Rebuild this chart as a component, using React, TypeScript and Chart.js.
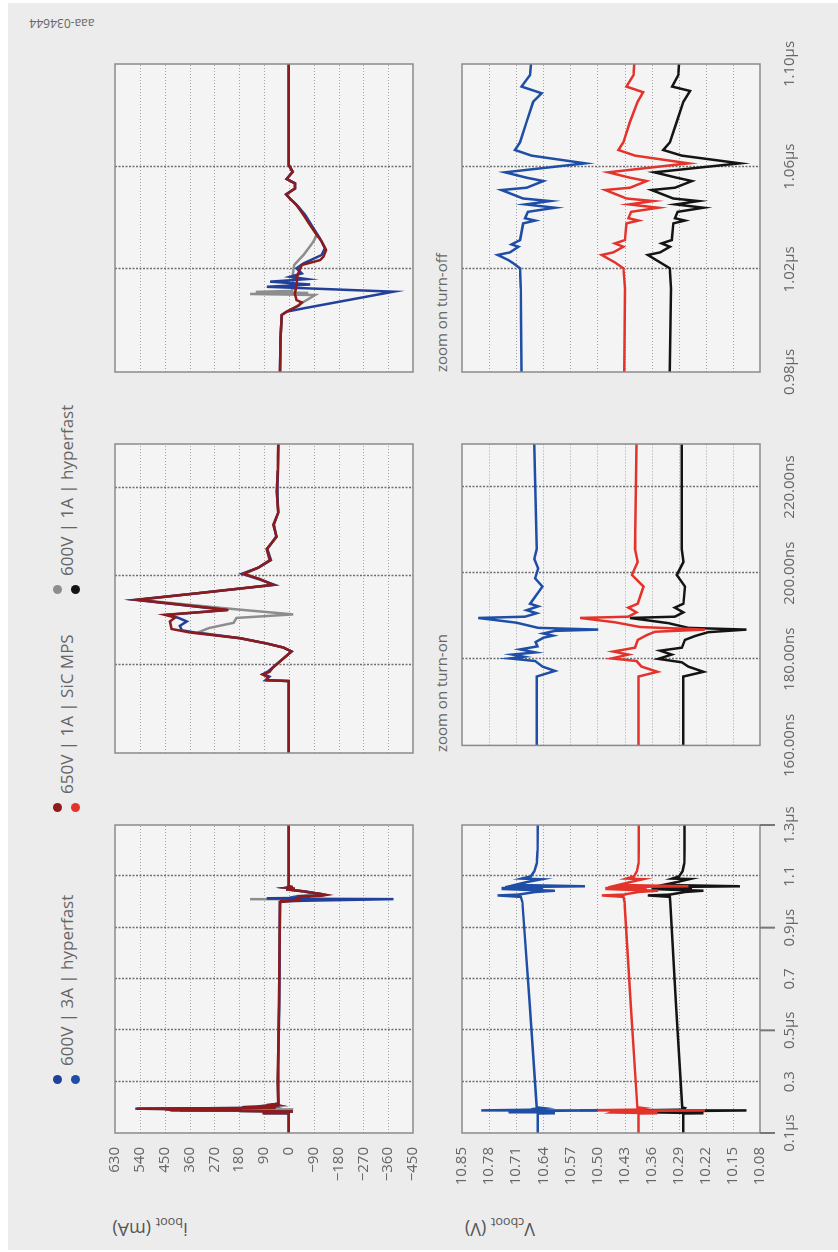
import React, { useEffect, useRef } from 'react';
import { Chart, registerables } from 'chart.js';
Chart.register(...registerables);

type Pt = [number, number];

// ---------------- tick values / labels ----------------
const ibootTicks = [630, 540, 450, 360, 270, 180, 90, 0, -90, -180, -270, -360, -450];
const ibootTickLabels = ['630', '540', '450', '360', '270', '180', '90', '0', '\u221290', '\u2212180', '\u2212270', '\u2212360', '\u2212450'];
const vTicks = [10.85, 10.78, 10.71, 10.64, 10.57, 10.5, 10.43, 10.36, 10.29, 10.22, 10.15, 10.08];
const vTickLabels = ['10.85', '10.78', '10.71', '10.64', '10.57', '10.50', '10.43', '10.36', '10.29', '10.22', '10.15', '10.08'];
const fullTicks = [0.1, 0.3, 0.5, 0.7, 0.9, 1.1, 1.3];
const fullTickLabels = ['0.1\u00b5s', '0.3', '0.5\u00b5s', '0.7', '0.9\u00b5s', '1.1', '1.3\u00b5s'];
const fullGrid = [0.3, 0.5, 0.7, 0.9, 1.1];
const fullMajor = [0.1, 0.5, 0.9, 1.3];
const onTicks = [160, 180, 200, 220];
const onTickLabels = ['160.00ns', '180.00ns', '200.00ns', '220.00ns'];
const onGrid = [180, 200, 220];
const offTicks = [0.98, 1.02, 1.06, 1.1];
const offTickLabels = ['0.98\u00b5s', '1.02\u00b5s', '1.06\u00b5s', '1.10\u00b5s'];
const offGrid = [1.02, 1.06];

// ---------------- legend ----------------
const legendNames = ['600V | 3A | hyperfast', '650V | 1A | SiC MPS', '600V | 1A | hyperfast'];

// ---------------- i_boot, full range (µs, mA) ----------------
const ibootFullSiC: Pt[] = [[0.1,0],[0.176,0],[0.1765,80],[0.1772,75],[0.1778,95],[0.1784,70],[0.1792,60],[0.183,-10],[0.1839,20],[0.186,177],[0.1873,358],[0.1881,425],[0.1898,431],[0.1907,412],[0.1913,449],[0.1924,219],[0.1947,551],[0.1981,56],[0.2006,165],[0.2037,68],[0.2062,80],[0.209,44],[0.2117,56],[0.2145,38],[0.3,40],[0.6,36],[1.0,32],[1.0022,26],[1.0035,8],[1.0045,-10],[1.0058,-35],[1.0071,-47],[1.008,-28],[1.0139,-28],[1.0217,-47],[1.0236,-113],[1.0275,-135],[1.0334,-101],[1.0412,-53],[1.0476,-4],[1.0492,10],[1.0515,-22],[1.0552,8],[1.058,-14],[1.0606,0],[1.3,0]];
const ibootFull3A: Pt[] = [[0.1,0],[0.176,0],[0.1765,85],[0.1773,70],[0.1779,92],[0.1785,75],[0.1792,62],[0.183,-10],[0.1839,20],[0.186,175],[0.1872,330],[0.1878,388],[0.1888,395],[0.1898,370],[0.1906,400],[0.1913,440],[0.1924,225],[0.1947,557],[0.1981,52],[0.2006,170],[0.2037,65],[0.2062,78],[0.209,46],[0.2117,54],[0.2145,38],[0.3,39],[0.6,35],[1.0,32],[1.0022,26],[1.0035,8],[1.0048,-53],[1.0113,-379],[1.0132,80],[1.0141,-77],[1.0152,68],[1.0162,-65],[1.0171,-4],[1.0184,-47],[1.0204,-28],[1.0223,-53],[1.0256,-119],[1.0282,-131],[1.0321,-113],[1.036,-89],[1.0412,-59],[1.0444,-34],[1.0476,-4],[1.0492,10],[1.0515,-22],[1.0552,8],[1.058,-14],[1.0606,0],[1.3,0]];
const ibootFull1A: Pt[] = [[0.1,0],[0.176,0],[0.1765,80],[0.1772,75],[0.1778,95],[0.1784,70],[0.1792,60],[0.183,-10],[0.1839,20],[0.186,177],[0.1873,330],[0.1883,290],[0.1895,200],[0.1906,190],[0.1914,-16],[0.1926,200],[0.1947,545],[0.1981,56],[0.2006,165],[0.2037,68],[0.2062,80],[0.209,44],[0.2117,56],[0.2145,38],[0.3,40],[0.6,36],[1.0,32],[1.0022,26],[1.0035,8],[1.0045,-10],[1.01,-95],[1.0104,141],[1.0108,-70],[1.0112,120],[1.0116,-10],[1.0126,-16],[1.0178,-14],[1.0217,-19],[1.0256,-53],[1.0308,-89],[1.0334,-101],[1.0412,-53],[1.0476,-4],[1.0492,10],[1.0515,-22],[1.0552,8],[1.058,-14],[1.0606,0],[1.3,0]];

// ---------------- i_boot, turn-on zoom (ns, mA) ----------------
const ibootOnSiC: Pt[] = [[160,0],[176.3,0],[176.5,80],[177.2,75],[177.8,95],[178.4,70],[179.2,60],[183.0,-10],[183.9,20],[184.8,80],[186.0,177],[187.3,358],[188.1,425],[189.8,431],[190.7,412],[191.3,449],[192.4,219],[194.7,551],[196.2,330],[198.1,56],[199.4,105],[200.6,165],[202.0,110],[203.7,68],[206.2,80],[209.0,44],[211.7,56],[214.5,38],[219.2,44],[224,40],[230,38]];
const ibootOn3A: Pt[] = [[160,0],[176.3,0],[176.5,85],[177.3,70],[177.9,92],[178.5,75],[179.2,62],[183.0,-10],[183.9,20],[184.8,80],[186.0,175],[187.2,330],[187.8,388],[188.8,395],[189.8,370],[190.6,400],[191.3,440],[192.4,225],[194.7,557],[196.2,330],[198.1,52],[199.4,110],[200.6,170],[202.0,110],[203.7,65],[206.2,78],[209.0,46],[211.7,54],[214.5,38],[219.2,42],[224,39],[230,38]];
const ibootOn1A: Pt[] = [[160,0],[176.3,0],[176.5,80],[177.2,75],[177.8,95],[178.4,70],[179.2,60],[183.0,-10],[183.9,20],[184.8,80],[186.0,177],[187.3,330],[188.3,290],[189.5,200],[190.6,190],[191.4,-16],[192.6,200],[194.7,545],[196.2,330],[198.1,58],[199.4,105],[200.6,160],[202.0,110],[203.7,70],[206.2,80],[209.0,44],[211.7,56],[214.5,38],[219.2,44],[224,40],[230,38]];

// ---------------- i_boot, turn-off zoom (µs, mA) ----------------
const ibootOffSiC: Pt[] = [[0.98,32],[0.993,30],[1.0022,26],[1.0035,8],[1.0045,-10],[1.0058,-35],[1.0071,-47],[1.008,-28],[1.0106,-22],[1.0139,-28],[1.0178,-31],[1.0217,-47],[1.0236,-113],[1.0249,-125],[1.0275,-135],[1.0308,-119],[1.0334,-101],[1.0373,-77],[1.0412,-53],[1.0451,-28],[1.0476,-4],[1.0492,10],[1.0515,-22],[1.0535,-22],[1.0552,8],[1.058,-14],[1.0606,0],[1.1,0]];
const ibootOff3A: Pt[] = [[0.98,32],[0.993,30],[1.0022,26],[1.0035,8],[1.0048,-53],[1.0113,-379],[1.0132,80],[1.0141,-77],[1.0152,68],[1.0162,-65],[1.0171,-4],[1.0184,-47],[1.0204,-28],[1.0223,-53],[1.0256,-119],[1.0282,-131],[1.0321,-113],[1.036,-89],[1.0412,-59],[1.0444,-34],[1.0476,-4],[1.0492,10],[1.0515,-22],[1.0535,-22],[1.0552,8],[1.058,-14],[1.0606,0],[1.1,0]];
const ibootOff1A: Pt[] = [[0.98,32],[0.993,30],[1.0022,26],[1.0035,8],[1.0045,-10],[1.01,-95],[1.0104,141],[1.0108,-70],[1.0112,120],[1.0116,-10],[1.0126,-16],[1.0178,-14],[1.0217,-19],[1.0256,-53],[1.0308,-89],[1.0334,-101],[1.0373,-77],[1.0412,-53],[1.0451,-28],[1.0476,-4],[1.0492,10],[1.0515,-22],[1.0535,-22],[1.0552,8],[1.058,-14],[1.0606,0],[1.1,0]];

// ---------------- V_cboot, full range (µs, V) ----------------
const vFull3A: Pt[] = [[0.1,10.654],[0.176,10.655],[0.177,10.61],[0.178,10.64],[0.18,10.73],[0.1815,10.66],[0.183,10.7],[0.1865,10.61],[0.187,10.5],[0.1875,10.65],[0.1896,10.8],[0.191,10.66],[0.193,10.67],[0.197,10.64],[0.2,10.657],[0.6,10.675],[1.0,10.694],[1.02,10.698],[1.0256,10.758],[1.0288,10.704],[1.039,10.661],[1.044,10.61],[1.0476,10.69],[1.0509,10.748],[1.0544,10.64],[1.0578,10.739],[1.0613,10.532],[1.0665,10.713],[1.0775,10.683],[1.0886,10.644],[1.0912,10.696],[1.1,10.672],[1.12,10.663],[1.15,10.657],[1.2,10.655],[1.3,10.654]];
const vFullSiC: Pt[] = [[0.1,10.394],[0.176,10.394],[0.177,10.345],[0.18,10.463],[0.1818,10.459],[0.1864,10.351],[0.1869,10.222],[0.1875,10.39],[0.1896,10.545],[0.191,10.399],[0.193,10.396],[0.197,10.381],[0.2,10.397],[0.6,10.414],[1.0,10.43],[1.02,10.433],[1.0256,10.489],[1.0288,10.433],[1.039,10.394],[1.044,10.343],[1.0476,10.425],[1.0509,10.48],[1.0544,10.373],[1.0578,10.472],[1.0613,10.265],[1.0665,10.446],[1.0775,10.416],[1.089,10.382],[1.0912,10.425],[1.1,10.405],[1.12,10.398],[1.15,10.394],[1.2,10.393],[1.3,10.393]];
const vFull1A: Pt[] = [[0.1,10.278],[0.176,10.278],[0.177,10.226],[0.1801,10.343],[0.182,10.338],[0.1863,10.214],[0.1869,10.115],[0.1873,10.265],[0.1896,10.416],[0.191,10.278],[0.193,10.278],[0.197,10.274],[0.2,10.281],[0.6,10.297],[1.0,10.312],[1.02,10.313],[1.0256,10.37],[1.0288,10.313],[1.039,10.274],[1.044,10.226],[1.0476,10.304],[1.0509,10.36],[1.0544,10.256],[1.0578,10.353],[1.0613,10.132],[1.0665,10.33],[1.0775,10.295],[1.0895,10.261],[1.0912,10.307],[1.1,10.289],[1.12,10.28],[1.15,10.276],[1.2,10.275],[1.3,10.275]];

// ---------------- V_cboot, turn-on zoom (ns, V) ----------------
const vOn3A: Pt[] = [[160,10.657],[176.0,10.657],[177.3,10.61],[178.3,10.642],[179.6,10.661],[180.2,10.726],[180.6,10.69],[181.1,10.72],[181.6,10.66],[182.3,10.7],[183.0,10.655],[184.0,10.66],[185.0,10.64],[185.5,10.615],[186.0,10.64],[186.6,10.61],[186.9,10.498],[187.3,10.653],[188.5,10.709],[189.6,10.808],[189.9,10.687],[190.7,10.657],[191.4,10.683],[192.3,10.653],[192.9,10.674],[196.9,10.642],[198.8,10.661],[201.1,10.653],[203.3,10.663],[205.6,10.657],[230,10.663]];
const vOnSiC: Pt[] = [[160,10.394],[176.0,10.394],[177.1,10.345],[178.3,10.386],[179.6,10.399],[180.2,10.463],[181.1,10.42],[181.8,10.459],[182.7,10.403],[184.5,10.396],[185.6,10.373],[186.4,10.351],[186.9,10.222],[187.5,10.39],[188.6,10.455],[189.6,10.545],[189.9,10.42],[190.9,10.399],[192.0,10.42],[192.9,10.396],[196.9,10.381],[199.6,10.411],[202.6,10.396],[205.6,10.403],[230,10.399]];
const vOn1A: Pt[] = [[160,10.278],[176.0,10.278],[177.1,10.226],[178.3,10.265],[179.3,10.282],[180.1,10.343],[181.1,10.308],[182.0,10.338],[182.7,10.282],[184.5,10.274],[185.4,10.248],[186.3,10.214],[186.9,10.115],[187.3,10.265],[188.4,10.317],[189.6,10.416],[189.9,10.3],[190.9,10.278],[192.0,10.3],[192.9,10.278],[196.9,10.274],[199.6,10.295],[202.6,10.278],[205.6,10.282],[230,10.282]];

// ---------------- V_cboot, turn-off zoom (µs, V) ----------------
const vOff3A: Pt[] = [[0.98,10.696],[1.0126,10.698],[1.0204,10.7],[1.0223,10.717],[1.0236,10.73],[1.0256,10.758],[1.0266,10.726],[1.0288,10.704],[1.0297,10.722],[1.0314,10.7],[1.0379,10.692],[1.039,10.661],[1.0399,10.687],[1.0424,10.68],[1.044,10.61],[1.0453,10.686],[1.0466,10.623],[1.0476,10.692],[1.0509,10.748],[1.0518,10.683],[1.0544,10.64],[1.0557,10.683],[1.0578,10.739],[1.0613,10.532],[1.0643,10.67],[1.0665,10.713],[1.0695,10.7],[1.0775,10.683],[1.0853,10.666],[1.0886,10.644],[1.0912,10.696],[1.0957,10.674],[1.1,10.672]];
const vOffSiC: Pt[] = [[0.98,10.431],[1.0126,10.429],[1.0204,10.433],[1.0227,10.455],[1.0256,10.489],[1.0266,10.459],[1.0288,10.433],[1.0301,10.455],[1.0314,10.429],[1.0379,10.425],[1.039,10.394],[1.0399,10.42],[1.0424,10.413],[1.044,10.343],[1.0453,10.418],[1.0466,10.356],[1.0476,10.425],[1.0509,10.48],[1.0518,10.416],[1.0544,10.373],[1.0557,10.416],[1.0578,10.472],[1.0613,10.265],[1.0643,10.403],[1.0665,10.446],[1.0695,10.433],[1.0775,10.416],[1.0853,10.396],[1.089,10.382],[1.0912,10.425],[1.0957,10.407],[1.1,10.405]];
const vOff1A: Pt[] = [[0.98,10.313],[1.0126,10.31],[1.0204,10.313],[1.0227,10.338],[1.0256,10.37],[1.0266,10.338],[1.0288,10.313],[1.0301,10.334],[1.0314,10.308],[1.0379,10.304],[1.039,10.274],[1.0399,10.3],[1.0424,10.293],[1.044,10.226],[1.0453,10.298],[1.0466,10.239],[1.0476,10.304],[1.0509,10.36],[1.0518,10.3],[1.0544,10.256],[1.0557,10.295],[1.0578,10.353],[1.0613,10.132],[1.0643,10.282],[1.0665,10.33],[1.0695,10.313],[1.0775,10.295],[1.0853,10.278],[1.0895,10.261],[1.0912,10.307],[1.0957,10.291],[1.1,10.289]];

// ---------------- styling ----------------
const FONT = "'Open Sans', 'Noto Sans', sans-serif";
const TEXT = '#666666';
const C_BLUE_I = '#22409a';
const C_RED_I = '#8e1b1b';
const C_GRAY = '#8d8d8d';
const C_BLUE_V = '#1f4ea6';
const C_RED_V = '#e4332b';
const C_BLACK = '#141414';

const COLS = [
  { left: 119, width: 308 },
  { left: 499, width: 309 },
  { left: 880, width: 308 },
];
const ROWS = [
  { top: 115, height: 298 },
  { top: 462, height: 298 },
];

type Series = { data: Pt[]; color: string };
type PanelCfg = {
  col: number; row: number;
  xMin: number; xMax: number; xTicks: number[]; xLabels: string[]; xGrid: number[]; xMajor: number[];
  yMin: number; yMax: number; yTicks: number[]; yLabels: string[];
  series: Series[];
};

const xr = {
  full: { xMin: 0.1, xMax: 1.3, xTicks: fullTicks, xLabels: fullTickLabels, xGrid: fullGrid, xMajor: fullMajor },
  on: { xMin: 160, xMax: 230, xTicks: onTicks, xLabels: onTickLabels, xGrid: onGrid, xMajor: [] as number[] },
  off: { xMin: 0.98, xMax: 1.1, xTicks: offTicks, xLabels: offTickLabels, xGrid: offGrid, xMajor: [] as number[] },
};
const yI = { yMin: -450, yMax: 630, yTicks: ibootTicks, yLabels: ibootTickLabels };
const yV = { yMin: 10.08, yMax: 10.85, yTicks: vTicks, yLabels: vTickLabels };

const PANELS: PanelCfg[] = [
  { col: 0, row: 0, ...xr.full, ...yI, series: [{ data: ibootFullSiC, color: C_RED_I }, { data: ibootFull3A, color: C_BLUE_I }, { data: ibootFull1A, color: C_GRAY }] },
  { col: 1, row: 0, ...xr.on, ...yI, series: [{ data: ibootOnSiC, color: C_RED_I }, { data: ibootOn3A, color: C_BLUE_I }, { data: ibootOn1A, color: C_GRAY }] },
  { col: 2, row: 0, ...xr.off, ...yI, series: [{ data: ibootOffSiC, color: C_RED_I }, { data: ibootOff3A, color: C_BLUE_I }, { data: ibootOff1A, color: C_GRAY }] },
  { col: 0, row: 1, ...xr.full, ...yV, series: [{ data: vFull3A, color: C_BLUE_V }, { data: vFullSiC, color: C_RED_V }, { data: vFull1A, color: C_BLACK }] },
  { col: 1, row: 1, ...xr.on, ...yV, series: [{ data: vOn3A, color: C_BLUE_V }, { data: vOnSiC, color: C_RED_V }, { data: vOn1A, color: C_BLACK }] },
  { col: 2, row: 1, ...xr.off, ...yV, series: [{ data: vOff3A, color: C_BLUE_V }, { data: vOffSiC, color: C_RED_V }, { data: vOff1A, color: C_BLACK }] },
];

function framePlugin(cfg: PanelCfg) {
  return {
    id: 'frame',
    beforeDatasetsDraw(chart: any) {
      const { ctx, chartArea: a, scales } = chart;
      ctx.save();
      ctx.fillStyle = '#f4f4f4';
      ctx.fillRect(a.left, a.top, a.right - a.left, a.bottom - a.top);
      ctx.strokeStyle = '#a2a2a2';
      ctx.lineWidth = 1;
      ctx.setLineDash([1, 2]);
      for (const v of cfg.yTicks) {
        const y = Math.round(scales.y.getPixelForValue(v)) + 0.5;
        if (y <= a.top + 2 || y >= a.bottom - 2) continue;
        ctx.beginPath(); ctx.moveTo(a.left, y); ctx.lineTo(a.right, y); ctx.stroke();
      }
      ctx.strokeStyle = '#6f6f6f';
      ctx.lineWidth = 1.5;
      ctx.setLineDash([2, 1.5]);
      for (const v of cfg.xGrid) {
        const x = Math.round(scales.x.getPixelForValue(v)) + 0.5;
        if (x <= a.left + 2 || x >= a.right - 2) continue;
        ctx.beginPath(); ctx.moveTo(x, a.top); ctx.lineTo(x, a.bottom); ctx.stroke();
      }
      ctx.restore();
    },
    afterDatasetsDraw(chart: any) {
      const { ctx, chartArea: a, scales } = chart;
      ctx.save();
      ctx.strokeStyle = '#8a8a8a';
      ctx.lineWidth = 1.5;
      ctx.setLineDash([]);
      ctx.strokeRect(a.left, a.top, a.right - a.left, a.bottom - a.top);
      if (cfg.row === 1) {
        ctx.strokeStyle = '#777777';
        ctx.lineWidth = 2;
        for (const v of cfg.xMajor) {
          const x = scales.x.getPixelForValue(v);
          ctx.beginPath(); ctx.moveTo(x, a.bottom); ctx.lineTo(x, a.bottom + 15); ctx.stroke();
        }
      }
      ctx.restore();
    },
  };
}

function Panel({ cfg }: { cfg: PanelCfg }) {
  const ref = useRef<HTMLCanvasElement>(null);
  const showY = cfg.col === 0;
  const showX = cfg.row === 1;
  const L = showY ? 90 : 45;
  const R = 45;
  const T = 30;
  const B = showX ? 60 : 30;
  const col = COLS[cfg.col];
  const row = ROWS[cfg.row];
  const w = col.width + L + R;
  const h = row.height + T + B;
  useEffect(() => {
    const chart = new Chart(ref.current as HTMLCanvasElement, {
      type: 'line',
      data: {
        datasets: cfg.series.map((s) => ({
          data: s.data.map(([x, y]) => ({ x, y })),
          borderColor: s.color,
          borderWidth: 2.5,
          pointRadius: 0,
          tension: 0,
          fill: false,
        })),
      },
      options: {
        animation: false,
        responsive: false,
        maintainAspectRatio: false,
        devicePixelRatio: 1,
        events: [],
        layout: { padding: { left: 0, top: T, right: R, bottom: 0 } },
        plugins: { legend: { display: false }, tooltip: { enabled: false } },
        scales: {
          x: {
            type: 'linear', min: cfg.xMin, max: cfg.xMax,
            grid: { display: false, drawTicks: false },
            border: { display: false },
            afterBuildTicks: (s: any) => { s.ticks = cfg.xTicks.map((v) => ({ value: v })); },
            afterFit: (s: any) => { s.height = B; },
            ticks: {
              display: showX, autoSkip: false, maxRotation: 0, minRotation: 0, padding: 21,
              color: TEXT, font: { family: FONT, size: 15 },
              callback: (_v: any, i: number) => cfg.xLabels[i],
            },
          },
          y: {
            type: 'linear', min: cfg.yMin, max: cfg.yMax,
            grid: { display: false, drawTicks: false },
            border: { display: false },
            afterBuildTicks: (s: any) => { s.ticks = cfg.yTicks.map((v) => ({ value: v })); },
            afterFit: (s: any) => { s.width = L; },
            ticks: {
              display: showY, autoSkip: false, padding: 14,
              color: TEXT, font: { family: FONT, size: 15 },
              callback: (_v: any, i: number) => cfg.yLabels[i],
            },
          },
        },
      } as any,
      plugins: [framePlugin(cfg)],
    });
    return () => chart.destroy();
  }, []);
  return (
    <canvas
      ref={ref}
      width={w}
      height={h}
      style={{ position: 'absolute', left: col.left - L, top: row.top - T, width: w, height: h }}
    />
  );
}

function VText({ x, y, size, color, children }: { x: number; y: number; size: number; color: string; children: React.ReactNode }) {
  return (
    <div
      style={{
        position: 'absolute', left: x, top: y, transform: 'translate(-50%, -50%) rotate(-90deg)',
        whiteSpace: 'nowrap', fontFamily: FONT, fontSize: size, color, lineHeight: 1,
      }}
    >
      {children}
    </div>
  );
}

const legendDots = [
  [C_BLUE_I, C_BLUE_V],
  [C_RED_I, C_RED_V],
  [C_GRAY, C_BLACK],
];
const legendX = [172, 444, 662];

export default function App() {
  useEffect(() => {
    document.body.style.overflow = 'hidden';
  }, []);
  return (
    <div
      style={{
        position: 'absolute', left: 0, top: 0, width: 1252, height: 838,
        transformOrigin: '0 0', transform: 'translate(0px, 1252px) rotate(-90deg)',
        background: '#ffffff', overflow: 'hidden',
      }}
    >
      <div style={{ position: 'absolute', left: 2, top: 8, width: 1247, height: 830, background: '#ececec' }} />
      {legendNames.map((name, i) => (
        <React.Fragment key={name}>
          <div style={{ position: 'absolute', left: legendX[i] - 4.5, top: 57 - 4.5, width: 9, height: 9, borderRadius: '50%', background: legendDots[i][0] }} />
          <div style={{ position: 'absolute', left: legendX[i] - 4.5, top: 75 - 4.5, width: 9, height: 9, borderRadius: '50%', background: legendDots[i][1] }} />
          <div style={{ position: 'absolute', left: legendX[i] + 14, top: 66, transform: 'translateY(-50%)', fontFamily: FONT, fontSize: 17, color: TEXT, whiteSpace: 'nowrap', lineHeight: 1 }}>
            {name}
          </div>
        </React.Fragment>
      ))}
      <VText x={25} y={150} size={18} color="#555555">
        i<sub style={{ fontSize: '0.7em' }}>boot</sub> (mA)
      </VText>
      <VText x={25} y={500} size={18} color="#555555">
        V<sub style={{ fontSize: '0.7em' }}>cboot</sub> (V)
      </VText>
      <div style={{ position: 'absolute', left: 500, top: 441, transform: 'translateY(-50%)', fontFamily: FONT, fontSize: 15, color: TEXT, whiteSpace: 'nowrap', lineHeight: 1 }}>
        zoom on turn-on
      </div>
      <div style={{ position: 'absolute', left: 880, top: 441, transform: 'translateY(-50%)', fontFamily: FONT, fontSize: 15, color: TEXT, whiteSpace: 'nowrap', lineHeight: 1 }}>
        zoom on turn-off
      </div>
      <VText x={1229} y={62} size={12} color="#666666">aaa-034644</VText>
      {PANELS.map((p, i) => (
        <Panel key={i} cfg={p} />
      ))}
    </div>
  );
}
